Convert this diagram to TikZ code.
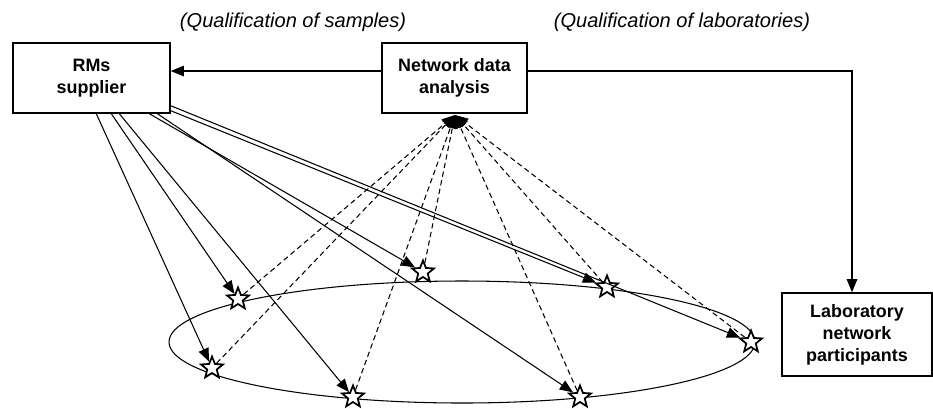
\documentclass[tikz,border=0pt]{standalone}
\usepackage{fontspec}
\setmainfont{Liberation Sans}
\usepackage{tikz}
\usetikzlibrary{shapes.geometric,arrows.meta,positioning}

\begin{document}
\begin{tikzpicture}[line width=0.6pt, >={Triangle[length=7.5pt,width=6pt]}]
    \tikzstyle{box}=[rectangle,draw,line width=0.8pt,align=center,font=\fontsize{10.2}{12.5}\selectfont\bfseries,inner sep=0pt]
    \tikzstyle{lab star}=[star,star points=5,star point ratio=2.3,draw,fill=white,line width=1pt,minimum size=0.46cm,inner sep=0pt]
    \tikzstyle{annot}=[font=\fontsize{11.4}{13}\selectfont\itshape]
    \tikzstyle{edge}=[->]
    \tikzstyle{back}=[->, dashed, dash pattern=on 3pt off 2pt]

    \useasboundingbox (0,0) rectangle (18.66,-8.16);

    \node[annot] (qsamp) at (5.86,-0.44) {(Qualification of samples)};
    \node[annot] (qlab) at (13.64,-0.44) {(Qualification of laboratories)};

    \node[box, minimum width=3.14cm, minimum height=1.4cm] (supp) at (1.83,-1.56) {RMs\\supplier};
    \node[box, minimum width=2.9cm, minimum height=1.4cm] (ana) at (9.09,-1.56) {Network data\\analysis};
    \node[box, minimum width=3.0cm, minimum height=1.66cm] (lab) at (17.14,-6.69) {Laboratory\\network\\participants};

    \draw[edge] ([yshift=0.14cm]ana.west) -- ([yshift=0.14cm]supp.east);
    \draw[edge] ([yshift=0.14cm]ana.east) -| ([xshift=-0.1cm]lab.north);

    % the network of laboratories
    \node[ellipse, draw, minimum width=11.72cm, minimum height=2.44cm] (net) at (9.24,-6.84) {};

    \node[lab star] (s1) at (4.24,-7.36) {};
    \node[lab star] (s2) at (4.76,-5.98) {};
    \node[lab star] (s3) at (7.06,-7.94) {};
    \node[lab star] (s4) at (8.46,-5.44) {};
    \node[lab star] (s5) at (11.6,-7.94) {};
    \node[lab star] (s6) at (12.14,-5.74) {};
    \node[lab star] (s7) at (15.02,-6.84) {};

    \coordinate (hub) at (9.1,-2.3);

    % samples sent out
    \draw[edge] ([xshift=1.68cm]supp.south west) -- (s1);
    \draw[edge] ([xshift=1.98cm]supp.south west) -- (s2);
    \draw[edge] ([xshift=2.14cm]supp.south west) -- (s3);
    \draw[edge] ([xshift=2.74cm]supp.south west) -- (s4);
    \draw[edge] ([xshift=2.9cm]supp.south west) -- (s5);
    \draw[edge] ([yshift=0.06cm]supp.south east) -- (s6);
    \draw[edge] ([yshift=0.16cm]supp.south east) -- (s7);

    % results sent back
    \foreach \s in {s1,s2,s3,s4,s5,s6,s7}
        \draw[back] (\s) -- (hub);
\end{tikzpicture}
\end{document}
